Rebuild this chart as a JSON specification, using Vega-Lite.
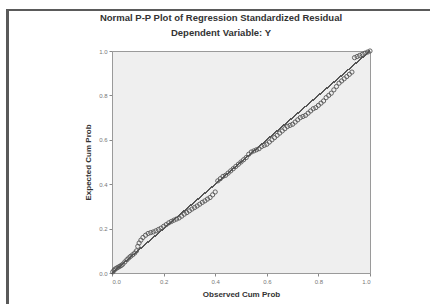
{
  "$schema": "https://vega.github.io/schema/vega-lite/v6.json",
  "width": 258,
  "height": 222,
  "autosize": "none",
  "padding": {"left": 112, "top": 51, "right": 60, "bottom": 31},
  "background": "white",
  "title": {
    "text": "Normal P-P Plot of Regression Standardized Residual",
    "subtitle": "Dependent Variable: Y",
    "fontSize": 9.5,
    "subtitleFontSize": 9.5,
    "fontWeight": "bold",
    "subtitleFontWeight": "bold",
    "font": "Liberation Sans",
    "subtitleFont": "Liberation Sans",
    "color": "#333333",
    "subtitleColor": "#333333",
    "anchor": "middle",
    "frame": "group",
    "dx": -20,
    "offset": -29,
    "subtitlePadding": 6
  },
  "config": {
    "view": {"fill": "#efefef", "stroke": "#9a9a9a", "strokeWidth": 1},
    "axis": {
      "labelFont": "Liberation Sans",
      "titleFont": "Liberation Sans",
      "labelFontSize": 6,
      "labelColor": "#777777",
      "titleFontSize": 8,
      "titleFontWeight": "bold",
      "titleColor": "#333333",
      "tickColor": "#888888",
      "tickSize": 3,
      "domainColor": "#9a9a9a",
      "grid": false,
      "format": ".1f",
      "values": [0, 0.2, 0.4, 0.6, 0.8, 1.0]
    }
  },
  "data": {
    "values": [
      {"obs": 0.003, "exp": 0.005}, {"obs": 0.008, "exp": 0.012}, {"obs": 0.012, "exp": 0.018},
      {"obs": 0.018, "exp": 0.022}, {"obs": 0.024, "exp": 0.026}, {"obs": 0.03, "exp": 0.03},
      {"obs": 0.036, "exp": 0.034}, {"obs": 0.042, "exp": 0.04}, {"obs": 0.05, "exp": 0.05},
      {"obs": 0.058, "exp": 0.06}, {"obs": 0.065, "exp": 0.068}, {"obs": 0.072, "exp": 0.075},
      {"obs": 0.08, "exp": 0.082}, {"obs": 0.088, "exp": 0.09}, {"obs": 0.095, "exp": 0.1},
      {"obs": 0.1, "exp": 0.12}, {"obs": 0.105, "exp": 0.135}, {"obs": 0.112, "exp": 0.148},
      {"obs": 0.12, "exp": 0.16}, {"obs": 0.13, "exp": 0.17}, {"obs": 0.14, "exp": 0.178},
      {"obs": 0.15, "exp": 0.182}, {"obs": 0.16, "exp": 0.185}, {"obs": 0.17, "exp": 0.19},
      {"obs": 0.18, "exp": 0.196}, {"obs": 0.19, "exp": 0.202}, {"obs": 0.2, "exp": 0.21},
      {"obs": 0.21, "exp": 0.218}, {"obs": 0.22, "exp": 0.226}, {"obs": 0.23, "exp": 0.232},
      {"obs": 0.24, "exp": 0.238}, {"obs": 0.25, "exp": 0.243}, {"obs": 0.26, "exp": 0.248},
      {"obs": 0.27, "exp": 0.256}, {"obs": 0.28, "exp": 0.265}, {"obs": 0.29, "exp": 0.272},
      {"obs": 0.3, "exp": 0.28}, {"obs": 0.31, "exp": 0.288}, {"obs": 0.32, "exp": 0.295},
      {"obs": 0.33, "exp": 0.302}, {"obs": 0.34, "exp": 0.31}, {"obs": 0.35, "exp": 0.318},
      {"obs": 0.36, "exp": 0.325}, {"obs": 0.37, "exp": 0.333}, {"obs": 0.38, "exp": 0.34},
      {"obs": 0.39, "exp": 0.352}, {"obs": 0.4, "exp": 0.365},
      {"obs": 0.41, "exp": 0.415}, {"obs": 0.42, "exp": 0.425}, {"obs": 0.43, "exp": 0.435},
      {"obs": 0.44, "exp": 0.44}, {"obs": 0.45, "exp": 0.45}, {"obs": 0.46, "exp": 0.46},
      {"obs": 0.47, "exp": 0.47}, {"obs": 0.48, "exp": 0.48}, {"obs": 0.49, "exp": 0.49},
      {"obs": 0.5, "exp": 0.5}, {"obs": 0.51, "exp": 0.51}, {"obs": 0.52, "exp": 0.52},
      {"obs": 0.53, "exp": 0.535}, {"obs": 0.54, "exp": 0.545}, {"obs": 0.55, "exp": 0.55},
      {"obs": 0.56, "exp": 0.555}, {"obs": 0.57, "exp": 0.56}, {"obs": 0.58, "exp": 0.57},
      {"obs": 0.59, "exp": 0.575}, {"obs": 0.6, "exp": 0.58}, {"obs": 0.61, "exp": 0.59},
      {"obs": 0.62, "exp": 0.6}, {"obs": 0.63, "exp": 0.61}, {"obs": 0.64, "exp": 0.62},
      {"obs": 0.65, "exp": 0.63}, {"obs": 0.66, "exp": 0.64}, {"obs": 0.67, "exp": 0.65},
      {"obs": 0.68, "exp": 0.66}, {"obs": 0.69, "exp": 0.665}, {"obs": 0.7, "exp": 0.67},
      {"obs": 0.71, "exp": 0.68}, {"obs": 0.72, "exp": 0.69}, {"obs": 0.73, "exp": 0.7},
      {"obs": 0.74, "exp": 0.705}, {"obs": 0.75, "exp": 0.71}, {"obs": 0.76, "exp": 0.72},
      {"obs": 0.77, "exp": 0.73}, {"obs": 0.78, "exp": 0.74}, {"obs": 0.79, "exp": 0.745},
      {"obs": 0.8, "exp": 0.755}, {"obs": 0.81, "exp": 0.765}, {"obs": 0.82, "exp": 0.775},
      {"obs": 0.83, "exp": 0.79}, {"obs": 0.84, "exp": 0.8}, {"obs": 0.85, "exp": 0.81},
      {"obs": 0.86, "exp": 0.825}, {"obs": 0.87, "exp": 0.84}, {"obs": 0.88, "exp": 0.855},
      {"obs": 0.89, "exp": 0.865}, {"obs": 0.9, "exp": 0.875}, {"obs": 0.91, "exp": 0.885},
      {"obs": 0.92, "exp": 0.895}, {"obs": 0.93, "exp": 0.905}, {"obs": 0.94, "exp": 0.97},
      {"obs": 0.95, "exp": 0.975}, {"obs": 0.96, "exp": 0.98}, {"obs": 0.97, "exp": 0.985},
      {"obs": 0.98, "exp": 0.99}, {"obs": 0.99, "exp": 0.995}, {"obs": 1.0, "exp": 1.0}
    ]
  },
  "layer": [
    {
      "mark": {"type": "rect", "fill": null, "stroke": "#5a5a5a", "strokeWidth": 2, "clip": false},
      "encoding": {
        "x": {"datum": -0.405, "type": "quantitative", "scale": {"domain": [0, 1], "nice": false}},
        "x2": {"datum": 1.4},
        "y": {"datum": 1.185, "type": "quantitative", "scale": {"domain": [0, 1], "nice": false}},
        "y2": {"datum": -0.2}
      }
    },
    {
      "mark": {"type": "rule", "color": "#555555", "strokeWidth": 1},
      "encoding": {
        "x": {"datum": 0, "type": "quantitative"},
        "y": {"datum": 0, "type": "quantitative"},
        "x2": {"datum": 1},
        "y2": {"datum": 1}
      }
    },
    {
      "mark": {"type": "point", "shape": "circle", "filled": false, "size": 18, "stroke": "#555555", "strokeWidth": 0.9, "opacity": 1},
      "encoding": {
        "x": {"field": "obs", "type": "quantitative", "title": "Observed Cum Prob", "scale": {"domain": [0, 1], "nice": false}, "axis": {"titlePadding": 6}},
        "y": {"field": "exp", "type": "quantitative", "title": "Expected Cum Prob", "scale": {"domain": [0, 1], "nice": false}, "axis": {"titlePadding": 6}}
      }
    }
  ]
}
